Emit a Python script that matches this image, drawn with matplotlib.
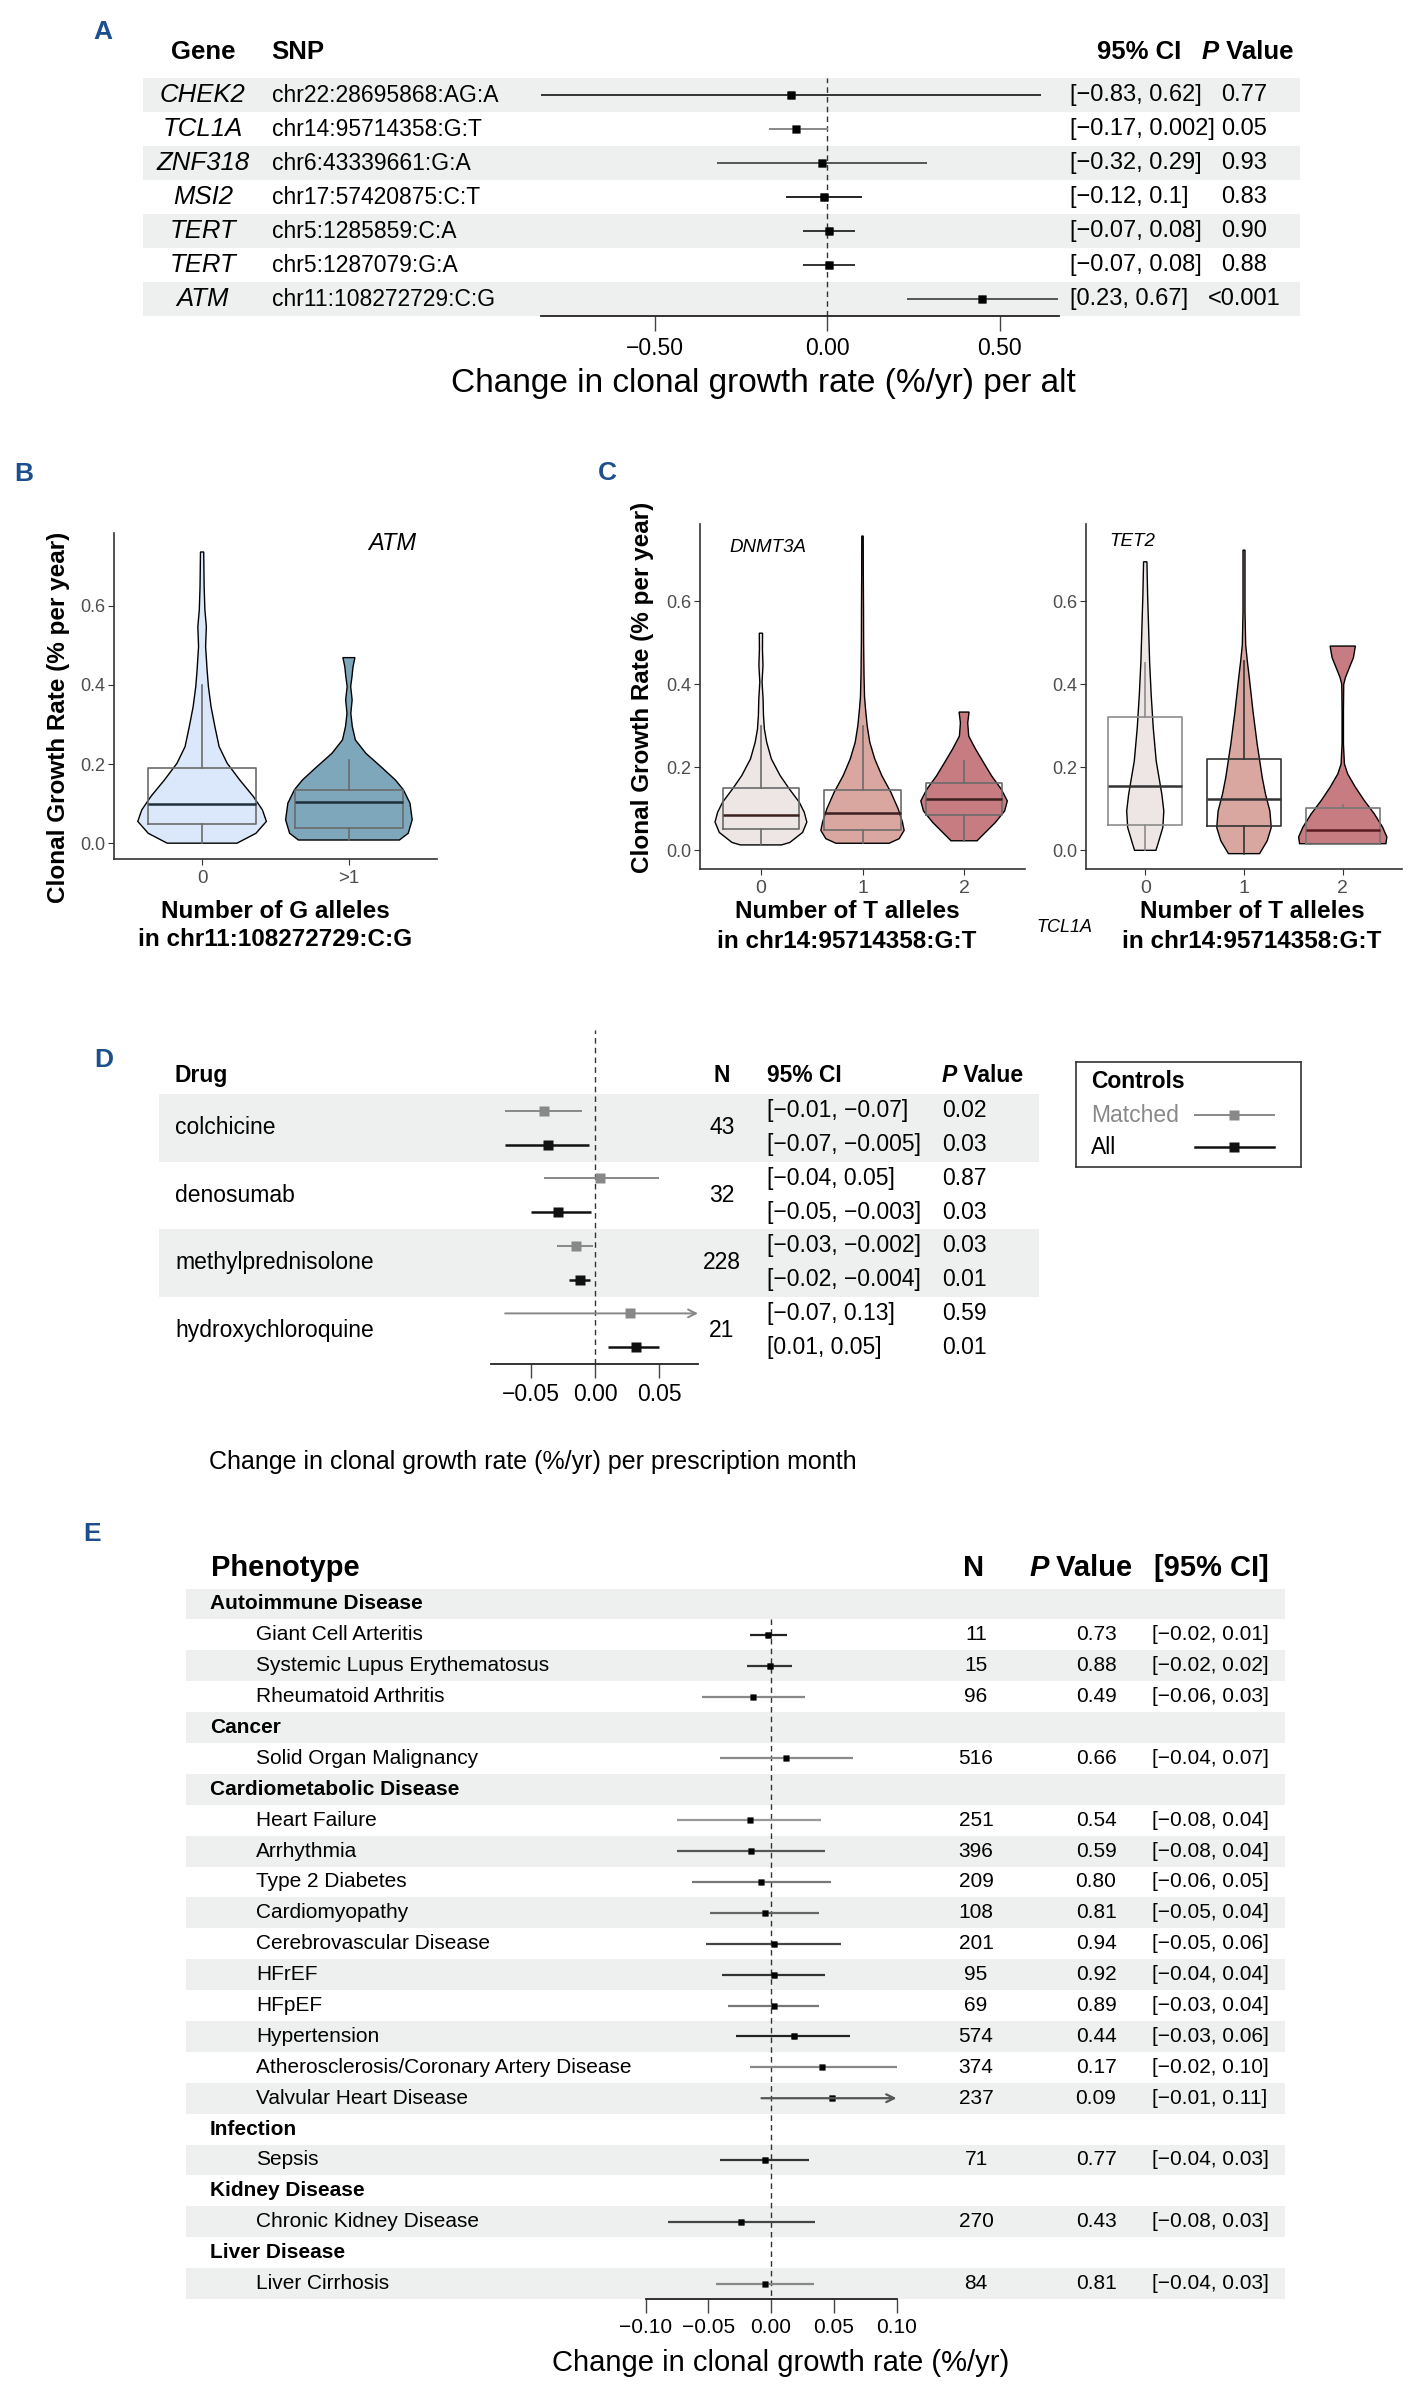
import numpy as np
import matplotlib
matplotlib.use('Agg')
import matplotlib.pyplot as plt

plt.rcParams['font.family'] = ['Liberation Sans', 'DejaVu Sans']

W, H = 1420, 2405
STRIPE = '#edf0ef'
LABEL_BLUE = '#1c4f8c'

# ---------------- panel A: SNP forest plot
a_genes = ['CHEK2', 'TCL1A', 'ZNF318', 'MSI2', 'TERT', 'TERT', 'ATM']
a_snps = ['chr22:28695868:AG:A', 'chr14:95714358:G:T', 'chr6:43339661:G:A',
          'chr17:57420875:C:T', 'chr5:1285859:C:A', 'chr5:1287079:G:A',
          'chr11:108272729:C:G']
a_est = [-0.105, -0.09, -0.015, -0.01, 0.004, 0.004, 0.45]
a_lo = [-0.83, -0.17, -0.32, -0.12, -0.07, -0.07, 0.23]
a_hi = [0.62, 0.002, 0.29, 0.10, 0.08, 0.08, 0.67]
a_ci = ['[\u22120.83, 0.62]', '[\u22120.17, 0.002]', '[\u22120.32, 0.29]', '[\u22120.12, 0.1]',
        '[\u22120.07, 0.08]', '[\u22120.07, 0.08]', '[0.23, 0.67]']
a_p = ['0.77', '0.05', '0.93', '0.83', '0.90', '0.88', '<0.001']
a_line_col = ['#333333', '#888888', '#555555', '#222222', '#333333', '#333333', '#555555']
a_ticks = [-0.5, 0.0, 0.5]

# ---------------- panel B: ATM violins
b_groups = ['0', '>1']
b_v0_y = [0.0, 0.025, 0.055, 0.084, 0.118, 0.160, 0.202, 0.244, 0.295, 0.345, 0.396,
          0.438, 0.497, 0.547, 0.59, 0.648, 0.736]
b_v0_w = [0.238, 0.367, 0.438, 0.411, 0.349, 0.256, 0.171, 0.116, 0.087, 0.061, 0.043,
          0.034, 0.024, 0.029, 0.019, 0.014, 0.011]
b_v1_y = [0.008, 0.025, 0.059, 0.101, 0.135, 0.160, 0.194, 0.227, 0.261, 0.295, 0.328,
          0.362, 0.396, 0.421, 0.446, 0.469]
b_v1_w = [0.344, 0.404, 0.431, 0.416, 0.371, 0.316, 0.216, 0.116, 0.044, 0.023, 0.013,
          0.022, 0.012, 0.021, 0.028, 0.041]
b_q1 = [0.048, 0.038]
b_med = [0.099, 0.105]
b_q3 = [0.189, 0.135]
b_wlo = [0.0, 0.008]
b_whi = [0.40, 0.209]
b_colors = ['#dbe7fb', '#7fa7bb']

# ---------------- panel C: TCL1A violins (DNMT3A / TET2)
c_groups = ['0', '1', '2']
c1_y = [
    [0.013, 0.019, 0.043, 0.068, 0.092, 0.116, 0.148, 0.18, 0.22, 0.26, 0.292, 0.325,
     0.365, 0.405, 0.445, 0.485, 0.523],
    [0.017, 0.028, 0.048, 0.068, 0.10, 0.14, 0.18, 0.22, 0.26, 0.30, 0.34, 0.37, 0.42,
     0.50, 0.58, 0.66, 0.757],
    [0.023, 0.043, 0.067, 0.095, 0.119, 0.147, 0.179, 0.211, 0.243, 0.275, 0.307, 0.333],
]
c1_w = [
    [0.203, 0.285, 0.41, 0.452, 0.426, 0.377, 0.279, 0.189, 0.103, 0.057, 0.034, 0.025,
     0.021, 0.011, 0.020, 0.015, 0.016],
    [0.262, 0.361, 0.41, 0.393, 0.351, 0.279, 0.19, 0.121, 0.072, 0.046, 0.030, 0.020,
     0.015, 0.011, 0.010, 0.008, 0.007],
    [0.128, 0.21, 0.308, 0.4, 0.426, 0.367, 0.272, 0.193, 0.115, 0.046, 0.036, 0.049],
]
c1_q1 = [0.051, 0.049, 0.086]
c1_med = [0.084, 0.091, 0.123]
c1_q3 = [0.149, 0.145, 0.161]
c1_wlo = [0.013, 0.017, 0.023]
c1_whi = [0.30, 0.30, 0.216]

c2_y = [
    [0.0, 0.015, 0.055, 0.095, 0.135, 0.215, 0.295, 0.375, 0.455, 0.535, 0.615, 0.695],
    [-0.008, 0.023, 0.055, 0.095, 0.135, 0.175, 0.255, 0.335, 0.415, 0.455, 0.495, 0.575,
     0.723],
    [0.016, 0.032, 0.056, 0.088, 0.12, 0.152, 0.184, 0.208, 0.256, 0.336, 0.40, 0.416,
     0.44, 0.464, 0.492],
]
c2_w = [
    [0.108, 0.128, 0.178, 0.188, 0.168, 0.111, 0.081, 0.060, 0.044, 0.034, 0.024, 0.017],
    [0.158, 0.235, 0.276, 0.262, 0.218, 0.185, 0.134, 0.091, 0.054, 0.034, 0.017, 0.010,
     0.010],
    [0.437, 0.447, 0.403, 0.319, 0.218, 0.128, 0.050, 0.017, 0.007, 0.007, 0.010, 0.027,
     0.067, 0.108, 0.128],
]
c2_q1 = [0.062, 0.058, 0.016]
c2_med = [0.155, 0.123, 0.048]
c2_q3 = [0.321, 0.219, 0.101]
c2_wlo = [0.0, -0.008, 0.016]
c2_whi = [0.45, 0.455, 0.11]
c_colors = ['#eee6e4', '#d9a6a0', '#c77c81']

# ---------------- panel D: drugs
d_drugs = ['colchicine', 'denosumab', 'methylprednisolone', 'hydroxychloroquine']
d_n = [43, 32, 228, 21]
d_m_est = [-0.04, 0.004, -0.015, 0.027]
d_m_lo = [-0.07, -0.04, -0.03, -0.07]
d_m_hi = [-0.01, 0.05, -0.002, 0.13]
d_a_est = [-0.037, -0.029, -0.012, 0.032]
d_a_lo = [-0.07, -0.05, -0.02, 0.01]
d_a_hi = [-0.005, -0.003, -0.004, 0.05]
d_m_ci = ['[\u22120.01, \u22120.07]', '[\u22120.04, 0.05]', '[\u22120.03, \u22120.002]',
          '[\u22120.07, 0.13]']
d_a_ci = ['[\u22120.07, \u22120.005]', '[\u22120.05, \u22120.003]', '[\u22120.02, \u22120.004]',
          '[0.01, 0.05]']
d_m_p = ['0.02', '0.87', '0.03', '0.59']
d_a_p = ['0.03', '0.03', '0.01', '0.01']
d_ticks = [-0.05, 0.0, 0.05]
d_legend = ['Matched', 'All']

# ---------------- panel E: phenotypes
e_groups = ['Autoimmune Disease', 'Cancer', 'Cardiometabolic Disease', 'Infection',
            'Kidney Disease', 'Liver Disease']
e_items = [
    ['Giant Cell Arteritis', 'Systemic Lupus Erythematosus', 'Rheumatoid Arthritis'],
    ['Solid Organ Malignancy'],
    ['Heart Failure', 'Arrhythmia', 'Type 2 Diabetes', 'Cardiomyopathy',
     'Cerebrovascular Disease', 'HFrEF', 'HFpEF', 'Hypertension',
     'Atherosclerosis/Coronary Artery Disease', 'Valvular Heart Disease'],
    ['Sepsis'],
    ['Chronic Kidney Disease'],
    ['Liver Cirrhosis'],
]
e_n = [11, 15, 96, 516, 251, 396, 209, 108, 201, 95, 69, 574, 374, 237, 71, 270, 84]
e_p = ['0.73', '0.88', '0.49', '0.66', '0.54', '0.59', '0.80', '0.81', '0.94', '0.92',
       '0.89', '0.44', '0.17', '0.09', '0.77', '0.43', '0.81']
e_ci = ['[\u22120.02, 0.01]', '[\u22120.02, 0.02]', '[\u22120.06, 0.03]', '[\u22120.04, 0.07]',
        '[\u22120.08, 0.04]', '[\u22120.08, 0.04]', '[\u22120.06, 0.05]', '[\u22120.05, 0.04]',
        '[\u22120.05, 0.06]', '[\u22120.04, 0.04]', '[\u22120.03, 0.04]', '[\u22120.03, 0.06]',
        '[\u22120.02, 0.10]', '[\u22120.01, 0.11]', '[\u22120.04, 0.03]', '[\u22120.08, 0.03]',
        '[\u22120.04, 0.03]']
e_est = [-0.0025, -0.001, -0.014, 0.012, -0.017, -0.016, -0.0076, -0.005, 0.002, 0.002,
         0.002, 0.018, 0.041, 0.049, -0.005, -0.024, -0.005]
e_lo = [-0.017, -0.019, -0.055, -0.041, -0.075, -0.075, -0.063, -0.049, -0.052, -0.039,
        -0.034, -0.028, -0.017, -0.0076, -0.041, -0.082, -0.044]
e_hi = [0.0127, 0.017, 0.027, 0.065, 0.040, 0.043, 0.048, 0.038, 0.056, 0.043, 0.038,
        0.063, 0.10, 0.11, 0.030, 0.035, 0.034]
e_line_col = ['#222222', '#333333', '#888888', '#8a8a8a', '#999999', '#555555', '#777777',
              '#666666', '#444444', '#333333', '#777777', '#222222', '#888888', '#555555',
              '#333333', '#444444', '#888888']
e_ticks = [-0.10, -0.05, 0.0, 0.05, 0.10]


fig = plt.figure(figsize=(W / 100, H / 100), dpi=100)


def rect(l, t, r, b):
    return [l / W, 1 - b / H, (r - l) / W, (b - t) / H]


def ftext(x, y, s, **kw):
    kw.setdefault('ha', 'center')
    kw.setdefault('va', 'center')
    return fig.text(x / W, 1 - y / H, s, **kw)


def fmt(v):
    return f'{v:.2f}'.replace('-', '\u2212')


def p_header(ax, x, y, size):
    t = ax.text(x, y, 'P', fontsize=size, fontweight='bold', style='italic',
                ha='left', va='center')
    ax.annotate(' Value', xy=(1, 0), xycoords=t, fontsize=size, fontweight='bold',
                ha='left', va='bottom')


def ci_line(ax, y, est, lo, hi, color, lw=1.4, ms=5.5):
    xmin, xmax = ax.get_xlim()
    lo_c, hi_c = max(lo, xmin), min(hi, xmax)
    if hi > xmax:
        ax.annotate('', xy=(hi_c, y), xytext=(lo_c, y),
                    arrowprops=dict(arrowstyle='->', color=color, lw=lw,
                                    shrinkA=0, shrinkB=0, mutation_scale=14))
    else:
        ax.plot([lo_c, hi_c], [y, y], color=color, lw=lw, solid_capstyle='butt')
    ax.plot([est], [y], marker='s', ms=ms, color=color, mec='none', linestyle='none')


def forest_axis(ax, ticks, labelsize, length):
    for s in ['top', 'right', 'left']:
        ax.spines[s].set_visible(False)
    ax.spines['bottom'].set_color('#222222')
    ax.spines['bottom'].set_linewidth(1.3)
    ax.set_yticks([])
    ax.set_xticks(ticks, labels=[fmt(t) for t in ticks])
    ax.tick_params(axis='x', length=length, width=1, pad=4, labelsize=labelsize,
                   color='#444444')
    ax.patch.set_alpha(0)


def violin(ax, pos, ys, ws, color):
    ys = np.asarray(ys)
    ws = np.asarray(ws)
    xs = np.concatenate([pos - ws, (pos + ws)[::-1]])
    yy = np.concatenate([ys, ys[::-1]])
    ax.fill(xs, yy, facecolor=color, edgecolor='black', lw=1.0, zorder=2)


def box(ax, pos, q1, med, q3, wlo, whi, width, color='#6b6b6b', medcolor='#222222'):
    stats = [dict(q1=q1, med=med, q3=q3, whislo=wlo, whishi=whi)]
    ax.bxp(stats, positions=[pos], widths=width, showfliers=False, showcaps=False,
           manage_ticks=False, zorder=3,
           boxprops=dict(color=color, lw=1.2),
           whiskerprops=dict(color=color, lw=1.2),
           medianprops=dict(color=medcolor, lw=1.8))


def violin_axis(ax, ylim, xlabels):
    ax.set_xlim(0.4, len(xlabels) + 0.6)
    ax.set_ylim(*ylim)
    for s in ['top', 'right']:
        ax.spines[s].set_visible(False)
    for s in ['left', 'bottom']:
        ax.spines[s].set_color('#333333')
        ax.spines[s].set_linewidth(1.2)
    ax.set_yticks([0, 0.2, 0.4, 0.6], labels=['0.0', '0.2', '0.4', '0.6'])
    ax.set_xticks(range(1, len(xlabels) + 1), labels=xlabels)
    ax.tick_params(axis='y', length=4, pad=2, labelsize=13, labelcolor='#4d4d4d',
                   color='#333333')
    ax.tick_params(axis='x', length=4, pad=4, labelsize=14, labelcolor='#4d4d4d',
                   color='#333333')


# ======== Panel A
nA = len(a_genes)
ax_ta = fig.add_axes(rect(143, 78, 1300, 316))
ax_ta.set_xlim(143, 1300)
ax_ta.set_ylim(nA - 0.5, -0.5)
ax_ta.axis('off')
for i in range(0, nA, 2):
    ax_ta.axhspan(i - 0.5, i + 0.5, color=STRIPE, lw=0)
for i in range(nA):
    ax_ta.text(203, i, a_genes[i], ha='center', va='center', style='italic', fontsize=18.5)
    ax_ta.text(272, i, a_snps[i], ha='left', va='center', fontsize=16.5)
    ax_ta.text(1070, i, a_ci[i], ha='left', va='center', fontsize=17)
    ax_ta.text(1244, i, a_p[i], ha='center', va='center', fontsize=17)
hy = -1.26
ax_ta.text(171, hy, 'Gene', ha='left', va='center', fontsize=18.5, fontweight='bold')
ax_ta.text(271, hy, 'SNP', ha='left', va='center', fontsize=18.5, fontweight='bold')
ax_ta.text(1097, hy, '95% CI', ha='left', va='center', fontsize=18.5, fontweight='bold')
p_header(ax_ta, 1202, hy, 18.5)

ax_a = fig.add_axes(rect(541, 78, 1059, 316))
ax_a.set_xlim(-0.831, 0.672)
ax_a.set_ylim(nA - 0.5, -0.5)
forest_axis(ax_a, a_ticks, 16.5, 11)
ax_a.axvline(0, color='#333333', lw=1.0, ls=(0, (4, 3)))
for i in range(nA):
    ci_line(ax_a, i, a_est[i], a_lo[i], a_hi[i], a_line_col[i], lw=1.4)
    ax_a.plot([a_est[i]], [i], marker='s', ms=5.5, color='black', mec='none')
ftext(763, 383, 'Change in clonal growth rate (%/yr) per alt', fontsize=24)

# ======== Panel B
ax_b = fig.add_axes(rect(114, 533, 437, 859))
violin_axis(ax_b, (-0.040, 0.784), b_groups)
violin(ax_b, 1, b_v0_y, b_v0_w, b_colors[0])
violin(ax_b, 2, b_v1_y, b_v1_w, b_colors[1])
for k in range(2):
    box(ax_b, k + 1, b_q1[k], b_med[k], b_q3[k], b_wlo[k], b_whi[k], 0.74,
        color='#6b6b6b', medcolor='#1f2f3a')
ax_b.tick_params(axis='x', labelsize=13.5)
ftext(392, 543, 'ATM', style='italic', fontsize=17)
ftext(59, 717, 'Clonal Growth Rate (% per year)', rotation=90, fontsize=17.5,
      fontweight='bold')
ftext(275, 911, 'Number of G alleles', fontsize=17.5, fontweight='bold')
ftext(275, 940, 'in chr11:108272729:C:G', fontsize=17.5, fontweight='bold')

# ======== Panel C
ax_c1 = fig.add_axes(rect(700, 524, 1025, 869))
ax_c2 = fig.add_axes(rect(1086, 524, 1402, 869))
c2_box_col = ['#8c8c8c', '#333333', '#777777']
c2_med_col = ['#333333', '#333333', '#5b1a1f']
for ax in (ax_c1, ax_c2):
    violin_axis(ax, (-0.045, 0.786), c_groups)
for k in range(3):
    violin(ax_c1, k + 1, c1_y[k], c1_w[k], c_colors[k])
    box(ax_c1, k + 1, c1_q1[k], c1_med[k], c1_q3[k], c1_wlo[k], c1_whi[k], 0.75,
        color='#6b6b6b', medcolor='#3a1f1f')
    violin(ax_c2, k + 1, c2_y[k], c2_w[k], c_colors[k])
    box(ax_c2, k + 1, c2_q1[k], c2_med[k], c2_q3[k], c2_wlo[k], c2_whi[k], 0.75,
        color=c2_box_col[k], medcolor=c2_med_col[k])
ftext(768, 548, 'DNMT3A', style='italic', fontsize=13.5)
ftext(1132, 542, 'TET2', style='italic', fontsize=13.5)
ftext(642, 687, 'Clonal Growth Rate (% per year)', rotation=90, fontsize=17.5,
      fontweight='bold')
for cx in (847, 1252):
    ftext(cx, 911, 'Number of T alleles', fontsize=17.5, fontweight='bold')
    ftext(cx, 942, 'in chr14:95714358:G:T', fontsize=17.5, fontweight='bold')
ftext(1064, 928, 'TCL1A', style='italic', fontsize=13)

# ======== Panel D
nD = len(d_drugs)
ylim_d = (2 * nD - 0.5, -2.4)
ax_td = fig.add_axes(rect(159, 1030, 1039, 1364))
ax_td.set_xlim(159, 1039)
ax_td.set_ylim(*ylim_d)
ax_td.axis('off')
for i in range(0, nD, 2):
    ax_td.axhspan(2 * i - 0.5, 2 * i + 1.5, color=STRIPE, lw=0)
for i in range(nD):
    ax_td.text(175, 2 * i + 0.5, d_drugs[i], ha='left', va='center', fontsize=16.5)
    ax_td.text(722, 2 * i + 0.5, str(d_n[i]), ha='center', va='center', fontsize=16.5)
    ax_td.text(767, 2 * i, d_m_ci[i], ha='left', va='center', fontsize=16.5)
    ax_td.text(767, 2 * i + 1, d_a_ci[i], ha='left', va='center', fontsize=16.5)
    ax_td.text(942, 2 * i, d_m_p[i], ha='left', va='center', fontsize=16.5)
    ax_td.text(942, 2 * i + 1, d_a_p[i], ha='left', va='center', fontsize=16.5)
hd = -1.04
ax_td.text(175, hd, 'Drug', ha='left', va='center', fontsize=16.5, fontweight='bold')
ax_td.text(722, hd, 'N', ha='center', va='center', fontsize=16.5, fontweight='bold')
ax_td.text(767, hd, '95% CI', ha='left', va='center', fontsize=16.5, fontweight='bold')
p_header(ax_td, 942, hd, 16.5)

ax_d = fig.add_axes(rect(491, 1030, 698, 1364))
ax_d.set_xlim(-0.081, 0.08)
ax_d.set_ylim(*ylim_d)
forest_axis(ax_d, d_ticks, 16.5, 10)
ax_d.axvline(0, color='#333333', lw=1.0, ls=(0, (4, 3)))
MATCHED, ALL = '#888888', '#111111'
for i in range(nD):
    ci_line(ax_d, 2 * i, d_m_est[i], d_m_lo[i], d_m_hi[i], MATCHED, lw=1.4, ms=6.5)
    ci_line(ax_d, 2 * i + 1, d_a_est[i], d_a_lo[i], d_a_hi[i], ALL, lw=1.8, ms=6.5)
ftext(533, 1462, 'Change in clonal growth rate (%/yr) per prescription month',
      fontsize=18)

# legend box for panel D, laid out in its own small axes (pixel units)
ax_lg = fig.add_axes(rect(1076, 1062, 1301, 1167))
ax_lg.set_xlim(1076, 1301)
ax_lg.set_ylim(1167, 1062)
ax_lg.set_xticks([])
ax_lg.set_yticks([])
for s in ax_lg.spines.values():
    s.set_color('#333333')
    s.set_linewidth(1.2)
ax_lg.text(1091, 1082, 'Controls', ha='left', va='center', fontsize=16.5,
           fontweight='bold')
for (lab, col, lw, ky) in zip(d_legend, [MATCHED, ALL], [1.4, 1.8], [1115, 1147]):
    ax_lg.text(1091, ky, lab, ha='left', va='center', fontsize=16.5,
               color=col if lab == 'Matched' else 'black')
    ax_lg.plot([1195, 1274], [ky, ky], color=col, lw=lw)
    ax_lg.plot([1234], [ky], marker='s', ms=6.5, color=col, mec='none')

# ======== Panel E
rows = []
for g, items in zip(e_groups, e_items):
    rows.append((g, True))
    rows.extend((it, False) for it in items)
nE = len(rows)
ylim_e = (nE - 0.5, -0.5)
ax_te = fig.add_axes(rect(186, 1588.5, 1285, 2299))
ax_te.set_xlim(186, 1285)
ax_te.set_ylim(*ylim_e)
ax_te.axis('off')
for i in range(0, nE, 2):
    ax_te.axhspan(i - 0.5, i + 0.5, color=STRIPE, lw=0)

ax_e = fig.add_axes(rect(645.5, 1588.5, 896.5, 2299))
ax_e.set_xlim(-0.10, 0.10)
ax_e.set_ylim(*ylim_e)
forest_axis(ax_e, e_ticks, 15, 10)
ax_e.plot([0, 0], [0.5, nE - 0.5], color='#333333', lw=1.0, ls=(0, (4, 3)))

j = 0
for i, (name, is_group) in enumerate(rows):
    if is_group:
        ax_te.text(210, i, name, ha='left', va='center', fontsize=15, fontweight='bold')
        continue
    ax_te.text(256, i, name, ha='left', va='center', fontsize=15)
    ax_te.text(976, i, str(e_n[j]), ha='center', va='center', fontsize=15)
    ax_te.text(1116.5, i, e_p[j], ha='right', va='center', fontsize=15)
    ax_te.text(1152, i, e_ci[j], ha='left', va='center', fontsize=15)
    ci_line(ax_e, i, e_est[j], e_lo[j], e_hi[j], e_line_col[j], lw=1.6, ms=5)
    ax_e.plot([e_est[j]], [i], marker='s', ms=5, color='black', mec='none')
    j += 1
he = -1.16
ax_te.text(211, he, 'Phenotype', ha='left', va='center', fontsize=21, fontweight='bold')
ax_te.text(974, he, 'N', ha='center', va='center', fontsize=21, fontweight='bold')
p_header(ax_te, 1029, he, 21)
ax_te.text(1154, he, '[95% CI]', ha='left', va='center', fontsize=21, fontweight='bold')
ftext(781, 2363, 'Change in clonal growth rate (%/yr)', fontsize=21)

# ======== panel letters
for letter, (x, y) in zip('ABCDE', [(103, 32), (24, 474), (607, 473), (104, 1060),
                                    (92, 1534)]):
    ftext(x, y, letter, color=LABEL_BLUE, fontsize=19, fontweight='bold')

fig.savefig('out.png', dpi=100)
